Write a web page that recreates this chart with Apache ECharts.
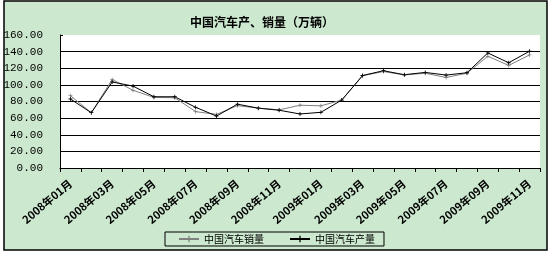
<!DOCTYPE html>
<html><head><meta charset="utf-8">
<script src="https://cdn.jsdelivr.net/npm/echarts@6/dist/echarts.min.js"></script>
<style>html,body{margin:0;padding:0;background:#fff}#c{width:553px;height:256px}</style>
</head><body><div id="c"></div>
<script>
var categories = ['2008年01月','2008年02月','2008年03月','2008年04月','2008年05月','2008年06月','2008年07月','2008年08月','2008年09月','2008年10月','2008年11月','2008年12月',
  '2009年01月','2009年02月','2009年03月','2009年04月','2009年05月','2009年06月','2009年07月','2009年08月','2009年09月','2009年10月','2009年11月'];
var sales = [87, 66.5, 106.5, 93.5, 84.9, 84.5, 67.8, 64.5, 75, 72, 70, 75.5, 74.8, 81.7, 111, 116, 112, 114, 108.9, 114, 134.4, 123.4, 136];
var production = [83, 66.5, 103.5, 98.5, 85.7, 85.7, 73, 62.5, 76.8, 72, 69.5, 65, 67, 81.7, 111.3, 117, 112.2, 115, 111.8, 114.6, 138.4, 126.6, 140.5];
var yTicks = { min: 0, max: 160, step: 20 };
var seriesNames = ['中国汽车销量', '中国汽车产量'];

var plus = 'path://M2,0H3V2H5V3H3V5H2V3H0V2H2Z';
var chart = echarts.init(document.getElementById('c'), null, {renderer: 'canvas'});
chart.setOption({
  animation: false,
  backgroundColor: '#fff',
  graphic: [{
    type: 'rect', z: -10, silent: true,
    shape: { x: 4, y: 1, width: 543, height: 249 },
    style: { fill: '#CCE8CE', stroke: '#000', lineWidth: 1.5 }
  }],
  title: {
    text: '中国汽车产、销量（万辆）',
    left: 185, top: 11,
    textStyle: { fontSize: 12, fontWeight: 'bold', color: '#000', fontFamily: 'Noto Sans CJK SC' }
  },
  grid: { left: 60, right: 13, top: 35, bottom: 88, show: true, backgroundColor: '#fff', borderWidth: 0 },
  legend: {
    data: seriesNames,
    left: 165, top: 232,
    padding: [2, 9, 2, 13],
    itemGap: 25,
    itemWidth: 20, itemHeight: 8,
    borderColor: '#000', borderWidth: 1, borderRadius: 0,
    backgroundColor: '#CCE8CE',
    textStyle: { fontSize: 10, color: '#000', fontFamily: 'Noto Sans CJK SC' }
  },
  xAxis: {
    type: 'category',
    data: categories,
    boundaryGap: true,
    axisLine: { lineStyle: { color: '#000', width: 1 } },
    axisTick: { show: true, length: 4, lineStyle: { color: '#000' }, interval: 0 },
    axisLabel: {
      interval: 1, rotate: 40, margin: 14,
      fontSize: 11, fontWeight: 'bold', color: '#000', fontFamily: 'Noto Sans CJK SC'
    },
    splitLine: { show: false }
  },
  yAxis: {
    type: 'value',
    min: yTicks.min, max: yTicks.max, interval: yTicks.step,
    axisLine: { show: true, lineStyle: { color: '#000', width: 1 } },
    axisTick: { show: true, inside: true, length: 3, lineStyle: { color: '#000' } },
    axisLabel: {
      margin: 17, fontSize: 11, color: '#000', fontFamily: 'Liberation Mono',
      formatter: function (v) { return v.toFixed(2); }
    },
    splitLine: { show: true, lineStyle: { color: ['#000','#000','#000','#000','#000','#000','#000','#000','rgba(0,0,0,0)'], width: 1 } }
  },
  series: [
    { name: seriesNames[0], type: 'line', data: sales, symbol: plus, symbolSize: 4,
      lineStyle: { color: '#808080', width: 1 }, itemStyle: { color: '#808080' } },
    { name: seriesNames[1], type: 'line', data: production, symbol: plus, symbolSize: 4,
      lineStyle: { color: '#000', width: 1 }, itemStyle: { color: '#000' } }
  ]
});
</script></body></html>
